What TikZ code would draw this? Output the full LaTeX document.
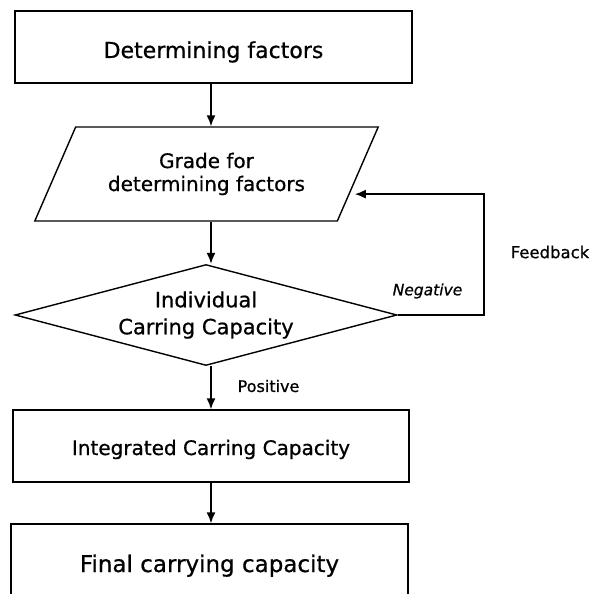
\documentclass[tikz,border=0pt]{standalone}
\usepackage{fontspec}
\setmainfont{DejaVu Sans}[FakeBold=0.7]
\usetikzlibrary{shapes,arrows,arrows.meta}
\usetikzlibrary{positioning}

\begin{document}
\begin{tikzpicture}[x=1pt, y=-1pt,
  box/.style={draw, line width=1.4pt, inner sep=0pt},
  flow/.style={->, >={Latex[length=11pt,width=9pt]}, line width=1.5pt},
  tag/.style={inner sep=0pt, font=\fontsize{16pt}{19pt}\selectfont}]
\useasboundingbox (0,0) rectangle (593,594);

\coordinate (axis) at (211, 0);
\coordinate (loop) at (484, 0);

\node[box, minimum width=397pt, minimum height=72pt, text height=22pt, text depth=0pt, font=\fontsize{22pt}{26pt}\selectfont] (factors) at (213.5, 47) {Determining factors};

\node[box, trapezium, trapezium left angle=54, trapezium right angle=126, trapezium stretches=true, minimum width=344pt, minimum height=94pt, align=center, font=\fontsize{20pt}{23pt}\selectfont] (grade) at (206.5, 174) {Grade for\\determining factors};

\node[box, diamond, aspect=3.8, minimum width=382pt, minimum height=101pt, align=center, font=\fontsize{21pt}{27pt}\selectfont] (ind) at (206, 315) {Individual\\Carring Capacity};

\node[box, minimum width=396pt, minimum height=72pt, text height=18pt, text depth=0pt, font=\fontsize{20pt}{24pt}\selectfont] (integ) at (211, 446) {Integrated Carring Capacity};

\node[box, minimum width=397pt, minimum height=76pt, text height=20pt, text depth=0pt, font=\fontsize{23pt}{27pt}\selectfont] (final) at (209.5, 562) {Final carrying capacity};

\draw[flow] (axis |- factors.south) -- (axis |- grade.north);
\draw[flow] (axis |- grade.south) -- (axis |- ind.north);
\draw[flow] (axis |- ind.south) -- (axis |- integ.north);
\draw[flow] (axis |- integ.south) -- (axis |- final.north);

% feedback loop
\draw[flow, shorten >=5pt] (ind.east) -| (loop |- grade.-8) -- (grade.-8);

\node[tag, font=\fontsize{15.5pt}{19pt}\selectfont\itshape] (neg) at (427.5, 291) {Negative};
\node[tag, font=\fontsize{16.5pt}{19pt}\selectfont] (fbk) at (550, 252) {Feedback};
\node[tag] (pos) at (268.5, 386) {Positive};

\end{tikzpicture}
\end{document}
